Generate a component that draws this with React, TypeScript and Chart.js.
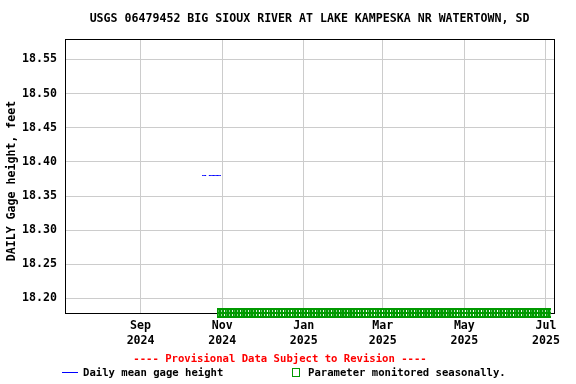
import { useEffect, useRef } from "react";
import { Chart, registerables } from "chart.js";

Chart.register(...registerables);

const TITLE = "USGS 06479452 BIG SIOUX RIVER AT LAKE KAMPESKA NR WATERTOWN, SD";
const Y_TITLE = "DAILY Gage height, feet";
const PROVISIONAL = "---- Provisional Data Subject to Revision ----";
const LEGEND_LINE = "Daily mean gage height";
const LEGEND_SEASONAL = "Parameter monitored seasonally.";

const Y_TICKS = [18.2, 18.25, 18.3, 18.35, 18.4, 18.45, 18.5, 18.55];
const Y_MIN = 18.1787;
const Y_MAX = 18.5799;

const X_TICK_DATES = ["2024-09-01", "2024-11-01", "2025-01-01", "2025-03-01", "2025-05-01", "2025-07-01"];
const X_TICK_MONTHS = ["Sep", "Nov", "Jan", "Mar", "May", "Jul"];
const X_TICK_YEARS = ["2024", "2024", "2025", "2025", "2025", "2025"];
const X_MIN_DATE = "2024-07-06T12:00:00";
const X_MAX_DATE = "2025-07-07T00:00:00";

const GAGE_DATES = [
  "2024-10-17", "2024-10-18", "2024-10-19", "2024-10-20", "2024-10-21",
  "2024-10-22", "2024-10-23", "2024-10-24", "2024-10-25", "2024-10-26",
  "2024-10-27", "2024-10-28", "2024-10-29", "2024-10-30", "2024-10-31",
];
const GAGE_VALUES: (number | null)[] = [
  18.38, 18.38, 18.38, 18.38, null,
  18.38, 18.38, 18.38, 18.38, 18.38,
  18.38, 18.38, 18.38, 18.38, 18.38,
];

const SEASONAL_START = "2024-10-29";
const SEASONAL_END = "2025-07-04";
const SEASONAL_STEP_DAYS = 2;

const FONT = "'DejaVu Sans Mono', monospace";
const GREEN = "#009900";

const toDay = (s: string) => Date.parse(s.length === 10 ? s + "T00:00:00Z" : s + "Z") / 86400000;

function makeMarker(): HTMLCanvasElement {
  const c = document.createElement("canvas");
  c.width = 3;
  c.height = 10;
  const ctx = c.getContext("2d")!;
  ctx.fillStyle = GREEN;
  ctx.fillRect(0, 0, 3, 10);
  ctx.fillStyle = "#ffffff";
  ctx.fillRect(2, 2, 1, 2);
  ctx.fillRect(2, 6, 1, 2);
  return c;
}

const textPlugin = {
  id: "usgsText",
  beforeDatasetsDraw(chart: any) {
    const { ctx, chartArea } = chart;
    ctx.save();
    ctx.strokeStyle = "#000000";
    ctx.lineWidth = 1;
    ctx.strokeRect(
      Math.round(chartArea.left) + 0.5,
      Math.round(chartArea.top) + 0.5,
      Math.round(chartArea.right - chartArea.left),
      Math.round(chartArea.bottom - chartArea.top)
    );
    ctx.restore();
  },
  afterDraw(chart: any) {
    const { ctx, chartArea } = chart;
    ctx.save();
    ctx.fillStyle = "#000000";
    ctx.textBaseline = "middle";
    ctx.textAlign = "center";
    ctx.font = `bold 11.6px ${FONT}`;
    ctx.fillText(TITLE, (chartArea.left + chartArea.right) / 2, 19);

    ctx.save();
    ctx.translate(12, 181);
    ctx.rotate(-Math.PI / 2);
    ctx.fillText(Y_TITLE, 0, 0);
    ctx.restore();

    ctx.font = `bold 10.6px ${FONT}`;
    ctx.fillStyle = "#ff0000";
    ctx.fillText(PROVISIONAL, 280, 359);

    ctx.textAlign = "left";
    ctx.fillStyle = "#000000";
    ctx.fillText(LEGEND_LINE, 83, 373);
    ctx.fillText(LEGEND_SEASONAL, 308, 373);

    ctx.strokeStyle = "#0000ff";
    ctx.lineWidth = 1;
    ctx.beginPath();
    ctx.moveTo(62, 372.5);
    ctx.lineTo(78, 372.5);
    ctx.stroke();

    ctx.strokeStyle = GREEN;
    ctx.strokeRect(292.5, 368.5, 7, 8);
    ctx.restore();
  },
};

export default function App() {
  const ref = useRef<HTMLCanvasElement>(null);

  useEffect(() => {
    if (!ref.current) return;
    const lineData = GAGE_DATES.map((d, i) => ({ x: toDay(d), y: GAGE_VALUES[i] }));
    const seasonal: { x: number; y: number }[] = [];
    const s0 = toDay(SEASONAL_START);
    const s1 = toDay(SEASONAL_END);
    for (let d = s0; d <= s1; d += SEASONAL_STEP_DAYS) seasonal.push({ x: d, y: Y_MIN });
    const marker = makeMarker();
    const tickDays = X_TICK_DATES.map(toDay);

    const chart = new Chart(ref.current, {
      type: "line",
      data: {
        datasets: [
          {
            label: LEGEND_SEASONAL,
            data: seasonal as any,
            showLine: false,
            pointStyle: marker as any,
            pointRadius: 5,
            clip: false as any,
          },
          {
            label: LEGEND_LINE,
            data: lineData as any,
            borderColor: "#0000ff",
            borderWidth: 1,
            pointRadius: 0,
            spanGaps: false,
          },
        ],
      },
      options: {
        responsive: false,
        animation: false,
        parsing: false as any,
        layout: { padding: { left: 0, top: 39, right: 22, bottom: 0 } },
        plugins: {
          legend: { display: false },
          title: { display: false },
          tooltip: { enabled: false },
        },
        scales: {
          x: {
            type: "linear",
            min: toDay(X_MIN_DATE),
            max: toDay(X_MAX_DATE),
            afterBuildTicks: (scale: any) => {
              scale.ticks = tickDays.map((v) => ({ value: v }));
            },
            afterFit: (scale: any) => {
              scale.height = 71;
            },
            ticks: {
              autoSkip: false,
              maxRotation: 0,
              padding: 5,
              color: "#000000",
              font: { family: FONT, size: 11.6, weight: "bold", lineHeight: "15px" } as any,
              callback: (_v: any, i: number) => [X_TICK_MONTHS[i], X_TICK_YEARS[i]],
            },
            grid: { color: "#cccccc", drawTicks: false, lineWidth: 1 },
            border: { display: false },
          },
          y: {
            type: "linear",
            min: Y_MIN,
            max: Y_MAX,
            afterBuildTicks: (scale: any) => {
              scale.ticks = Y_TICKS.map((v) => ({ value: v }));
            },
            afterFit: (scale: any) => {
              scale.width = 65;
            },
            ticks: {
              padding: 8,
              color: "#000000",
              font: { family: FONT, size: 11.6, weight: "bold" } as any,
              callback: (v: any) => Number(v).toFixed(2),
            },
            grid: { color: "#cccccc", drawTicks: false, lineWidth: 1 },
            border: { display: false },
          },
        },
      },
      plugins: [textPlugin],
    });
    return () => chart.destroy();
  }, []);

  return (
    <div style={{ position: "absolute", left: 0, top: 0, width: 576, height: 384, background: "#ffffff" }}>
      <canvas ref={ref} width={576} height={384} style={{ width: 576, height: 384 }} />
    </div>
  );
}
